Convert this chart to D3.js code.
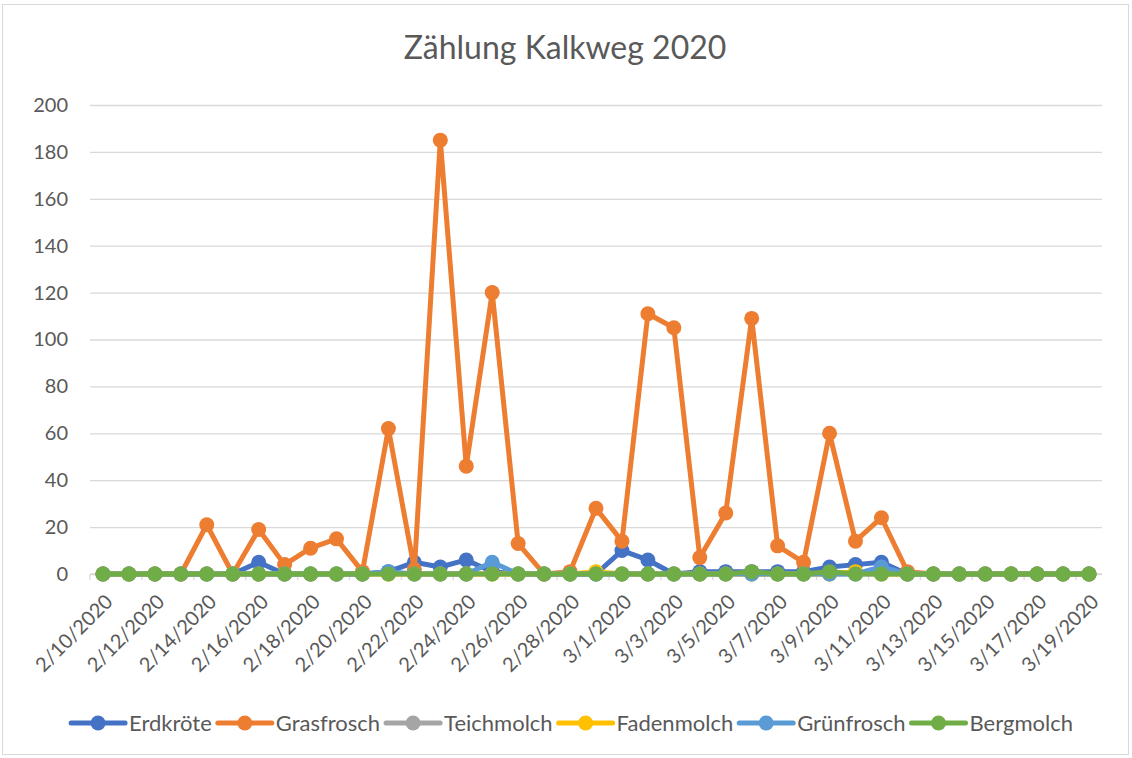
<!DOCTYPE html>
<html>
<head>
<meta charset="utf-8">
<script src="https://cdn.jsdelivr.net/npm/d3@7"></script>
<style>
  body { margin: 0; background: #fff; }
  svg text { font-family: Lato, "Open Sans", sans-serif; fill: #595959; }
</style>
</head>
<body>
<svg width="1132" height="758"></svg>
<script>
var dates = [
    '2/10/2020','2/11/2020','2/12/2020','2/13/2020','2/14/2020','2/15/2020','2/16/2020',
    '2/17/2020','2/18/2020','2/19/2020','2/20/2020','2/21/2020','2/22/2020','2/23/2020',
    '2/24/2020','2/25/2020','2/26/2020','2/27/2020','2/28/2020','2/29/2020','3/1/2020',
    '3/2/2020','3/3/2020','3/4/2020','3/5/2020','3/6/2020','3/7/2020','3/8/2020',
    '3/9/2020','3/10/2020','3/11/2020','3/12/2020','3/13/2020','3/14/2020','3/15/2020',
    '3/16/2020','3/17/2020','3/18/2020','3/19/2020'
];

var erdkroete  = [0,0,0,0,0,0,5,0,0,0,0,1,5,3,6,1,0,0,0,0,10,6,0,1,1,1,1,1,3,4,5,0,0,0,0,0,0,0,0];
var grasfrosch = [0,0,0,0,21,0,19,4,11,15,1,62,2,185,46,120,13,0,1,28,14,111,105,7,26,109,12,5,60,14,24,1,0,0,0,0,0,0,0];
var teichmolch = [0,0,0,0,0,0,0,0,0,0,0,0,0,0,0,0,0,0,0,0,0,0,0,0,0,0,0,0,0,0,0,0,0,0,0,0,0,0,0];
var fadenmolch = [0,0,0,0,0,0,0,0,0,0,0,0,0,0,0,0,0,0,0,1,0,0,0,0,0,0,0,0,0,1,0,0,0,0,0,0,0,0,0];
var gruenfrosch= [0,0,0,0,0,0,0,0,0,0,0,1,0,0,0,5,0,0,0,0,0,0,0,0,0,0,0,0,0,0,3,0,0,0,0,0,0,0,0];
var bergmolch  = [0,0,0,0,0,0,0,0,0,0,0,0,0,0,0,0,0,0,0,0,0,0,0,0,0,1,0,0,1,0,0,0,0,0,0,0,0,0,0];

var seriesNames = ['Erdkröte','Grasfrosch','Teichmolch','Fadenmolch','Grünfrosch','Bergmolch'];
var seriesValues = [erdkroete, grasfrosch, teichmolch, fadenmolch, gruenfrosch, bergmolch];
var colors = ['#4472C4','#ED7D31','#A5A5A5','#FFC000','#5B9BD5','#70AD47'];
var yTicks = [0,20,40,60,80,100,120,140,160,180,200];

var svg = d3.select('svg');

// chart frame
svg.append('rect')
    .attr('x',2.5).attr('y',4.5)
    .attr('width',1126).attr('height',750)
    .attr('fill','none').attr('stroke','#d9d9d9');

svg.append('text')
    .attr('x',565).attr('y',59)
    .attr('text-anchor','middle')
    .style('font-size','32px')
    .text('Zählung Kalkweg 2020');

// note: "top" is taken by window.top, so plot* names
var plotLeft = 90, plotRight = 1102, plotTop = 105, plotBottom = 574;

var x = d3.scalePoint()
    .domain(dates)
    .range([plotLeft,plotRight])
    .padding(0.5);
var step = x.step();

var y = d3.scaleLinear()
    .domain([0,200])
    .range([plotBottom,plotTop]);

// gridlines + y labels
var yAxis = d3.axisLeft(y)
    .tickValues(yTicks)
    .tickSize(-(plotRight-plotLeft))
    .tickPadding(22);
var gy = svg.append('g')
    .attr('transform','translate('+plotLeft+',0)')
    .call(yAxis);
gy.select('.domain').remove();
gy.selectAll('line').attr('stroke','#d9d9d9').attr('stroke-width',1.3);
gy.selectAll('text')
    .style('font-size','20px')
    .attr('fill','#595959')
    .attr('font-family','Lato');

// category axis: tick marks between every second pair of categories
var tickPos = d3.range(0,dates.length,2).map(function (i) {
    return x(dates[i]) - step/2;
});
svg.append('line')
    .attr('x1',plotLeft).attr('x2',plotRight)
    .attr('y1',plotBottom).attr('y2',plotBottom)
    .attr('stroke','#d9d9d9').attr('stroke-width',1.3);
svg.selectAll('.xtick')
    .data(tickPos)
    .enter().append('line')
    .attr('class','xtick')
    .attr('x1',function (d) { return d; })
    .attr('x2',function (d) { return d; })
    .attr('y1',plotBottom).attr('y2',plotBottom+6)
    .attr('stroke','#d9d9d9').attr('stroke-width',1.3);

svg.selectAll('.xlabel')
    .data(dates.filter(function (d,i) { return i%2===0; }))
    .enter().append('text')
    .attr('class','xlabel')
    .attr('text-anchor','end')
    .attr('dy','0.35em')
    .style('font-size','20px')
    .attr('transform',function (d) {
        return 'translate('+(x(d)+6)+','+(plotBottom+24)+') rotate(-45)';
    })
    .text(function (d) { return d; });

// series
var line = d3.line()
    .x(function (d,i) { return x(dates[i]); })
    .y(function (d) { return y(d); });

seriesValues.forEach(function (vals,s) {
    var g = svg.append('g');
    g.append('path')
        .attr('d',line(vals))
        .attr('fill','none')
        .attr('stroke',colors[s])
        .attr('stroke-width',5)
        .attr('stroke-linejoin','round');
    g.selectAll('circle')
        .data(vals)
        .enter().append('circle')
        .attr('cx',function (d,i) { return x(dates[i]); })
        .attr('cy',function (d) { return y(d); })
        .attr('r',7.5)
        .attr('fill',colors[s]);
});

// legend
var legend = svg.append('g');
var lx = 0;
seriesNames.forEach(function (name,s) {
    var item = legend.append('g').attr('transform','translate('+lx+',0)');
    item.append('line')
        .attr('x1',0).attr('x2',54)
        .attr('y1',0).attr('y2',0)
        .attr('stroke',colors[s])
        .attr('stroke-width',5)
        .attr('stroke-linecap','round');
    item.append('circle')
        .attr('cx',27).attr('cy',0).attr('r',7.5)
        .attr('fill',colors[s]);
    var t = item.append('text')
        .attr('x',58).attr('dy','0.35em')
        .style('font-size','22px')
        .text(name);
    lx += 58 + t.node().getComputedTextLength() + 6;
});
legend.attr('transform','translate('+(572-(lx-6)/2)+',723)');
</script>
</body>
</html>
